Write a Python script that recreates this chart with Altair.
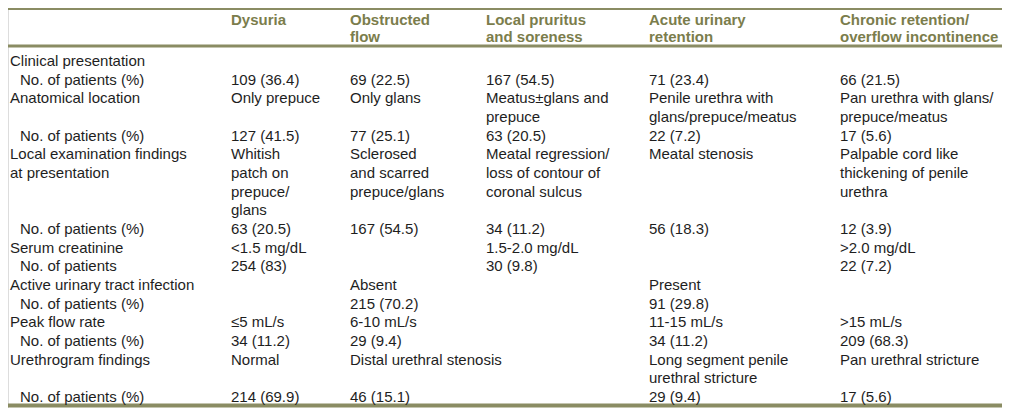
import altair as alt
import pandas as pd

# ---- table content ----
header_line1 = ["Dysuria", "Obstructed", "Local pruritus", "Acute urinary", "Chronic retention/"]
header_line2 = ["", "flow", "and soreness", "retention", "overflow incontinence"]

row_labels = ["Clinical presentation", "No. of patients (%)", "Anatomical location", "",
              "No. of patients (%)", "Local examination findings", "at presentation", "", "",
              "No. of patients (%)", "Serum creatinine", "No. of patients",
              "Active urinary tract infection", "No. of patients (%)", "Peak flow rate",
              "No. of patients (%)", "Urethrogram findings", "", "No. of patients (%)"]
row_indent = [False, True, False, False, True, False, False, False, False, True, False, True,
              False, True, False, True, False, False, True]

dysuria = ["", "109 (36.4)", "Only prepuce", "", "127 (41.5)", "Whitish", "patch on", "prepuce/",
           "glans", "63 (20.5)", "<1.5 mg/dL", "254 (83)", "", "", "≤5 mL/s", "34 (11.2)",
           "Normal", "", "214 (69.9)"]
obstructed = ["", "69 (22.5)", "Only glans", "", "77 (25.1)", "Sclerosed", "and scarred",
              "prepuce/glans", "", "167 (54.5)", "", "", "Absent", "215 (70.2)", "6-10 mL/s",
              "29 (9.4)", "Distal urethral stenosis", "", "46 (15.1)"]
local_pruritus = ["", "167 (54.5)", "Meatus±glans and", "prepuce", "63 (20.5)", "Meatal regression/",
                  "loss of contour of", "coronal sulcus", "", "34 (11.2)", "1.5-2.0 mg/dL", "30 (9.8)",
                  "", "", "", "", "", "", ""]
acute = ["", "71 (23.4)", "Penile urethra with", "glans/prepuce/meatus", "22 (7.2)", "Meatal stenosis",
         "", "", "", "56 (18.3)", "", "", "Present", "91 (29.8)", "11-15 mL/s", "34 (11.2)",
         "Long segment penile", "urethral stricture", "29 (9.4)"]
chronic = ["", "66 (21.5)", "Pan urethra with glans/", "prepuce/meatus", "17 (5.6)", "Palpable cord like",
           "thickening of penile", "urethra", "", "12 (3.9)", ">2.0 mg/dL", "22 (7.2)", "", "",
           ">15 mL/s", "209 (68.3)", "Pan urethral stricture", "", "17 (5.6)"]

# ---- layout / style ----
W, H = 994, 400
col_index = [0, 1, 2, 3, 4, 5, 6]          # label, indented sub-label, five data columns
col_pos = [2, 12, 223, 342, 478, 641, 832]  # left edges of the columns
OLIVE_TEXT = "#7b7d4c"
OLIVE_RULE = "#8a8c63"
FONT = "Liberation Sans"

body = []
data_cols = [dysuria, obstructed, local_pruritus, acute, chronic]
for i, lab in enumerate(row_labels):
    if lab:
        body.append({"line": i, "col": 1 if row_indent[i] else 0, "text": lab})
    for j, col in enumerate(data_cols):
        if col[i]:
            body.append({"line": i, "col": j + 2, "text": col[i]})
body_df = pd.DataFrame(body)

head = []
for j, (a, b) in enumerate(zip(header_line1, header_line2)):
    head.append({"line": -2.196, "col": j + 2, "text": a})
    if b:
        head.append({"line": -1.259, "col": j + 2, "text": b})
head_df = pd.DataFrame(head)

# top rule, rule under the header, bottom rule (in body-line units)
rules_df = pd.DataFrame({"line": [-2.785, -0.803, 18.452], "w": [2, 3, 4]})

yscale = alt.Scale(domain=[-2.839, 18.586], reverse=True, zero=False, nice=False)
xscale = alt.Scale(type="linear", domain=col_index, range=col_pos, zero=False, nice=False)

body_layer = alt.Chart(body_df).mark_text(
    align="left", baseline="middle", font=FONT, fontSize=15, color="#1e1e1e"
).encode(
    x=alt.X("col:Q", scale=xscale, axis=None),
    y=alt.Y("line:Q", scale=yscale, axis=None),
    text="text:N",
)

head_layer = alt.Chart(head_df).mark_text(
    align="left", baseline="middle", font=FONT, fontSize=15, fontWeight="bold", color=OLIVE_TEXT
).encode(
    x=alt.X("col:Q", scale=xscale, axis=None),
    y=alt.Y("line:Q", scale=yscale, axis=None),
    text="text:N",
)

rule_layer = alt.Chart(rules_df).mark_rule(color=OLIVE_RULE).encode(
    y=alt.Y("line:Q", scale=yscale, axis=None),
    x=alt.value(0),
    x2=alt.value(W),
    strokeWidth=alt.StrokeWidth("w:Q", scale=None, legend=None),
)

chart = alt.layer(rule_layer, head_layer, body_layer).properties(
    width=W, height=H, padding=0, autosize=alt.AutoSizeParams(type="none")
).configure_view(stroke=None).configure(background="white")

chart.save("out.html", embed_options={"renderer": "svg", "actions": False})
